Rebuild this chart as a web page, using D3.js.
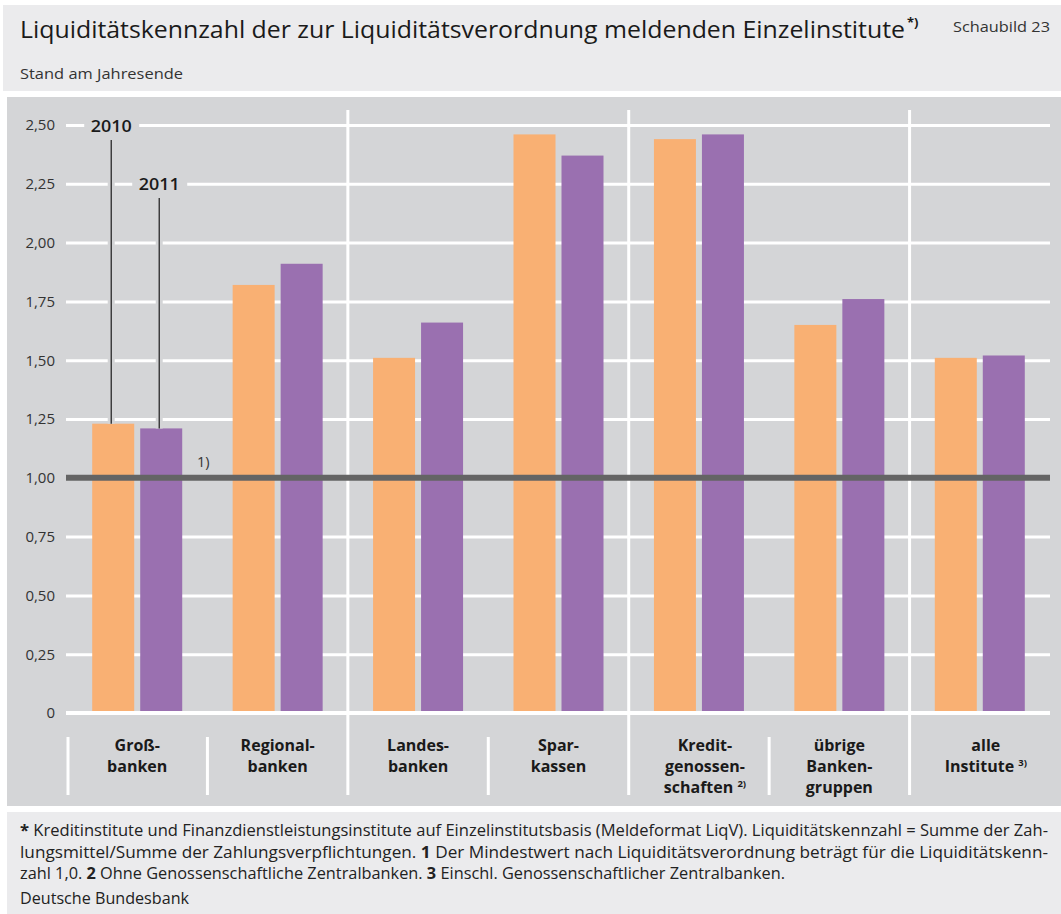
<!DOCTYPE html>
<html>
<head>
<meta charset="utf-8">
<script src="https://cdn.jsdelivr.net/npm/d3@7"></script>
<style>
  body { margin: 0; background: #fff; }
  svg { display: block; font-family: "Open Sans", "Noto Sans", sans-serif; }
</style>
</head>
<body>
<div id="chart"></div>
<script>
// data
var categories = ["Großbanken", "Regionalbanken", "Landesbanken", "Sparkassen",
  "Kreditgenossenschaften", "übrige Bankengruppen", "alle Institute"];
var categoryLines = [["Groß-", "banken"], ["Regional-", "banken"], ["Landes-", "banken"],
  ["Spar-", "kassen"], ["Kredit-", "genossen-", "schaften"], ["übrige", "Banken-", "gruppen"],
  ["alle", "Institute"]];
var categoryNotes = ["", "", "", "", "2)", "", "3)"];
var years = ["2010", "2011"];
var values2010 = [1.23, 1.82, 1.51, 2.46, 2.44, 1.65, 1.51];
var values2011 = [1.21, 1.91, 1.66, 2.37, 2.46, 1.76, 1.52];
var yTicks = [0, 0.25, 0.5, 0.75, 1, 1.25, 1.5, 1.75, 2, 2.25, 2.5];
var minimumValue = 1.0;
var majorBreaks = [2, 4, 6];   // separators between category groups
var minorBreaks = [0, 1, 3, 5];

var W = 1061, H = 914;
var colors = { "2010": "#f9b073", "2011": "#9a70b0" };
var panelGrey = "#d4d5d7", lightGrey = "#ebebed";

var svg = d3.select("#chart").append("svg")
  .attr("width", W).attr("height", H);

// background boxes
svg.append("rect").attr("x", 3).attr("y", 5).attr("width", W - 3).attr("height", 86).attr("fill", lightGrey);
svg.append("rect").attr("x", 7).attr("y", 97).attr("width", W - 7).attr("height", 709).attr("fill", panelGrey);
svg.append("rect").attr("x", 7).attr("y", 812).attr("width", W - 7).attr("height", 102).attr("fill", lightGrey);

// title
svg.append("text").attr("x", 20).attr("y", 38)
  .attr("font-size", 23).attr("fill", "#1a1a1a")
  .text("Liquiditätskennzahl der zur Liquiditätsverordnung meldenden Einzelinstitute")
  .attr("textLength", 885).attr("lengthAdjust", "spacingAndGlyphs");
svg.append("text").attr("x", 907).attr("y", 27).attr("font-size", 13).attr("font-weight", "bold")
  .attr("fill", "#1a1a1a").text("*)");
svg.append("text").attr("x", 1050).attr("y", 32).attr("text-anchor", "end")
  .attr("font-size", 15).attr("fill", "#333").text("Schaubild 23")
  .attr("textLength", 97).attr("lengthAdjust", "spacingAndGlyphs");
svg.append("text").attr("x", 20).attr("y", 79).attr("font-size", 14.5).attr("fill", "#333")
  .text("Stand am Jahresende")
  .attr("textLength", 163).attr("lengthAdjust", "spacingAndGlyphs");

// scales
var x = d3.scaleBand().domain(categories).range([67, 1050]);
var xs = d3.scaleBand().domain(years).range([x.bandwidth() / 2 - 45, x.bandwidth() / 2 + 45]).paddingInner(0.125);
var y = d3.scaleLinear().domain([0, 2.5]).range([713, 125]);

var fmt = d3.formatLocale({ decimal: ",", thousands: ".", grouping: [3], currency: ["", " €"] }).format(".2f");

// gridlines
var yAxis = d3.axisLeft(y).tickValues(yTicks)
  .tickSize(-(1050 - 66)).tickPadding(11)
  .tickFormat(function(d) { return d === 0 ? "0" : fmt(d); });
var gy = svg.append("g").attr("transform", "translate(66,0)").call(yAxis);
gy.select(".domain").remove();
gy.selectAll(".tick line").attr("stroke", "#fff").attr("stroke-width", 3)
  .attr("x1", 0).attr("x2", 1050 - 66);
gy.selectAll(".tick text").attr("font-size", 15).attr("fill", "#333")
  .attr("font-family", "'Open Sans', sans-serif");

// separators
majorBreaks.forEach(function(i) {
  var xx = x(categories[i]);
  svg.append("line").attr("x1", xx).attr("x2", xx).attr("y1", 110).attr("y2", 795)
    .attr("stroke", "#fff").attr("stroke-width", 3);
});
minorBreaks.forEach(function(i) {
  var xx = x(categories[i]) + (i === 0 ? 1 : 0);
  svg.append("line").attr("x1", xx).attr("x2", xx).attr("y1", 737).attr("y2", 795)
    .attr("stroke", "#fff").attr("stroke-width", 3);
});

// bars
var rows = categories.map(function(c, i) {
  return { cat: c, vals: [{ year: "2010", v: values2010[i] }, { year: "2011", v: values2011[i] }] };
});
var groups = svg.selectAll("g.cat").data(rows).enter().append("g")
  .attr("class", "cat")
  .attr("transform", function(d) { return "translate(" + x(d.cat) + ",0)"; });
groups.selectAll("rect").data(function(d) { return d.vals; }).enter().append("rect")
  .attr("x", function(d) { return xs(d.year); })
  .attr("width", xs.bandwidth())
  .attr("y", function(d) { return y(d.v); })
  .attr("height", function(d) { return y(0) - y(d.v); })
  .attr("fill", function(d) { return colors[d.year]; });

// zero axis line
svg.append("line").attr("x1", 66).attr("x2", 1050).attr("y1", y(0)).attr("y2", y(0))
  .attr("stroke", "#fff").attr("stroke-width", 4);

// minimum line
svg.append("line").attr("x1", 66).attr("x2", 1050).attr("y1", y(minimumValue)).attr("y2", y(minimumValue))
  .attr("stroke", "#646464").attr("stroke-width", 6);
svg.append("text").attr("x", 197).attr("y", y(minimumValue) - 11).attr("font-size", 14.5).attr("fill", "#333").text("1)");

// year annotations on the first group
var labelPos = [{ year: "2010", v: values2010[0], ty: 132, line0: 140 }, { year: "2011", v: values2011[0], ty: 190, line0: 198 }];
labelPos.forEach(function(d) {
  var cx = x(categories[0]) + xs(d.year) + xs.bandwidth() / 2 - 2;
  svg.append("line").attr("x1", cx).attr("x2", cx).attr("y1", d.line0).attr("y2", y(d.v))
    .attr("stroke", panelGrey).attr("stroke-width", 7);
  svg.append("line").attr("x1", cx).attr("x2", cx).attr("y1", d.line0).attr("y2", y(d.v))
    .attr("stroke", "#1a1a1a").attr("stroke-width", 1.2);
  svg.append("rect").attr("x", cx - 27).attr("y", d.ty - 17).attr("width", 55).attr("height", 22).attr("fill", panelGrey);
  svg.append("text").attr("x", cx).attr("y", d.ty).attr("text-anchor", "middle")
    .attr("font-size", 17).attr("font-weight", 600).attr("fill", "#1a1a1a").text(d.year)
    .attr("textLength", 41).attr("lengthAdjust", "spacingAndGlyphs");
});

// category labels
categories.forEach(function(c, i) {
  var cx = x(c) + x.bandwidth() / 2;
  var t = svg.append("text").attr("text-anchor", "middle").attr("font-size", 16)
    .attr("font-weight", "bold").attr("fill", "#1a1a1a");
  categoryLines[i].forEach(function(line, j) {
    var ts = t.append("tspan").attr("x", cx).attr("y", 751 + j * 21).text(line);
    if (j === categoryLines[i].length - 1 && categoryNotes[i]) {
      ts.text(line + " ");
      t.append("tspan").attr("font-size", 9.5).attr("dy", -6).text(categoryNotes[i]);
    }
  });
  // shift labels with notes so the main word stays centred
  if (categoryNotes[i]) t.attr("transform", "translate(6,0)");
});

// footnotes
var notes = [
  [["*", true], [" Kreditinstitute und Finanzdienstleistungsinstitute auf Einzelinstitutsbasis (Meldeformat LiqV). Liquiditätskennzahl = Summe der Zah-", false]],
  [["lungsmittel/Summe der Zahlungsverpflichtungen. ", false], ["1", true], [" Der Mindestwert nach Liquiditätsverordnung beträgt für die Liquiditätskenn-", false]],
  [["zahl 1,0. ", false], ["2", true], [" Ohne Genossenschaftliche Zentralbanken. ", false], ["3", true], [" Einschl. Genossenschaftlicher Zentralbanken.", false]]
];
var noteWidths = [1028, 1028, 765];
notes.forEach(function(parts, i) {
  var t = svg.append("text").attr("x", 20).attr("y", 836 + i * 21.5)
    .attr("font-size", 15.5).attr("fill", "#222");
  parts.forEach(function(p) {
    t.append("tspan").attr("font-weight", p[1] ? "bold" : "normal").text(p[0]);
  });
  t.attr("textLength", noteWidths[i]).attr("lengthAdjust", "spacingAndGlyphs");
});
svg.append("text").attr("x", 20).attr("y", 904).attr("font-size", 15.5).attr("fill", "#222")
  .text("Deutsche Bundesbank").attr("textLength", 169).attr("lengthAdjust", "spacingAndGlyphs");
</script>
</body>
</html>
